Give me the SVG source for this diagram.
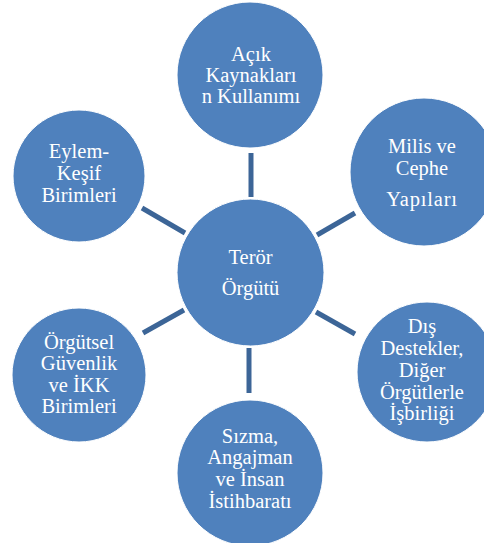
<svg xmlns="http://www.w3.org/2000/svg" width="484" height="543" viewBox="0 0 484 543">
<style>
.c{fill:#4F81BD;stroke:#ffffff;stroke-width:1}
.t{font-size:20.5px;fill:#ffffff;text-anchor:middle}
.l{stroke:#3C6597;stroke-width:5;fill:none}
</style>
<rect width="484" height="543" fill="#ffffff"/>
<g id="connectors">
<line class="l" x1="251" y1="153" x2="251" y2="197"/>
<line class="l" x1="249" y1="348" x2="249" y2="393"/>
<line class="l" x1="142" y1="208" x2="185" y2="233"/>
<line class="l" x1="317" y1="235" x2="355" y2="213"/>
<line class="l" x1="143" y1="333" x2="184" y2="310"/>
<line class="l" x1="316" y1="312" x2="355" y2="334"/>
</g>
<g font-family="Liberation Serif, DejaVu Serif, serif">
<g id="center">
<circle class="c" cx="250.5" cy="272.5" r="73.5"/>
<text class="t" x="250.5" y="264">Terör</text>
<text class="t" x="250.5" y="295">Örgütü</text>
</g>
<g id="n-top">
<circle class="c" cx="250" cy="75" r="73"/>
<text class="t" x="251" y="61">Açık</text>
<text class="t" x="251" y="82">Kaynakları</text>
<text class="t" x="251" y="103">n Kullanımı</text>
</g>
<g id="n-milis">
<circle class="c" cx="424" cy="172" r="74"/>
<text class="t" x="422" y="153">Milis ve</text>
<text class="t" x="422" y="175">Cephe</text>
<text class="t" x="422" y="206" letter-spacing="0.8">Yapıları</text>
</g>
<g id="n-dis">
<circle class="c" cx="427" cy="372" r="70"/>
<text class="t" x="422" y="333">Dış</text>
<text class="t" x="422" y="355">Destekler,</text>
<text class="t" x="422" y="377">Diğer</text>
<text class="t" x="422" y="399">Örgütlerle</text>
<text class="t" x="422" y="420">İşbirliği</text>
</g>
<g id="n-sizma">
<circle class="c" cx="250" cy="473" r="73"/>
<text class="t" x="250" y="443">Sızma,</text>
<text class="t" x="250" y="464">Angajman</text>
<text class="t" x="250" y="486">ve İnsan</text>
<text class="t" x="250" y="508">İstihbaratı</text>
</g>
<g id="n-orgutsel">
<circle class="c" cx="79" cy="375" r="67"/>
<text class="t" x="79" y="349">Örgütsel</text>
<text class="t" x="79" y="370">Güvenlik</text>
<text class="t" x="79" y="392">ve İKK</text>
<text class="t" x="79" y="413">Birimleri</text>
</g>
<g id="n-eylem">
<circle class="c" cx="79" cy="176" r="66"/>
<text class="t" x="79" y="158">Eylem-</text>
<text class="t" x="79" y="180">Keşif</text>
<text class="t" x="79" y="202">Birimleri</text>
</g>
</g>
</svg>
